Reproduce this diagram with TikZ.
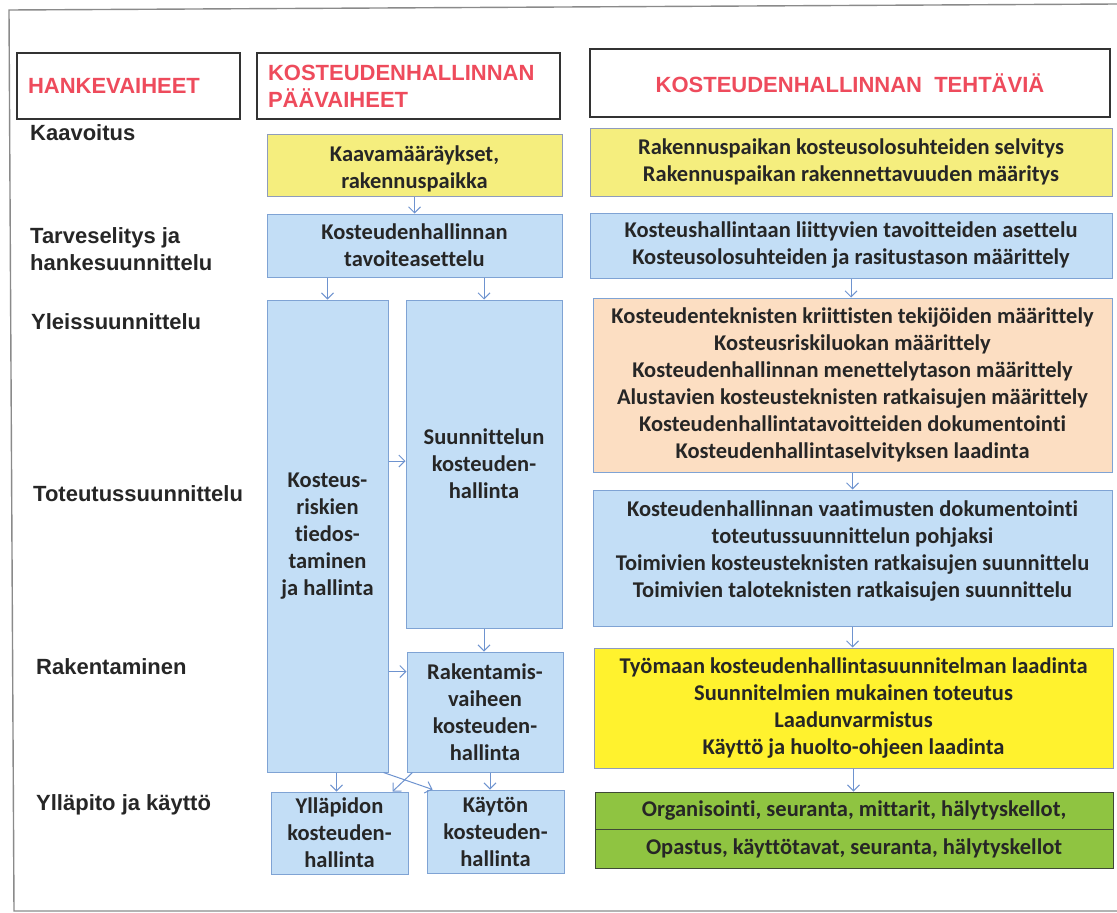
\documentclass[tikz,border=0pt]{standalone}
\usepackage{fontspec}
\setmainfont{Carlito}[Ligatures=CommonOff]
\newfontfamily\arialf{Liberation Sans}
\usetikzlibrary{arrows.meta}
\definecolor{bfill}{HTML}{C3DEF6}
\definecolor{bbord}{HTML}{7FA3D4}
\definecolor{yfill}{HTML}{F5EE7E}
\definecolor{yfilltwo}{HTML}{FFF22E}
\definecolor{ybord}{HTML}{8F9CBC}
\definecolor{ofill}{HTML}{FCDEC2}
\definecolor{gfill}{HTML}{8FC441}
\definecolor{gbord}{HTML}{3F4A35}
\definecolor{redt}{HTML}{EE4B5C}
\definecolor{txt}{HTML}{262626}
\definecolor{arrc}{HTML}{6E93CF}
\definecolor{framec}{HTML}{8A8A8A}
\begin{document}
\begin{tikzpicture}[x=1pt,y=-1pt,
  box/.style={draw=bbord, line width=1pt, align=center, inner sep=0pt, text=txt,
    font=\bfseries\fontsize{22.5}{27}\selectfont},
  bluebox/.style={box, fill=bfill},
  yelbox/.style={box, fill=yfill, draw=ybord},
  yelboxtwo/.style={box, fill=yfilltwo, draw=ybord},
  orbox/.style={box, fill=ofill},
  grbox/.style={box, fill=gfill, draw=gbord},
  boxtext/.style={align=center, inner sep=0pt, text=txt,
    font=\bfseries\fontsize{22.5}{27}\selectfont},
  hdrbox/.style={draw=black!80, line width=1.1pt, text=redt, inner sep=0pt,
    font=\arialf\bfseries\fontsize{22}{27}\selectfont},
  lbl/.style={anchor=west, inner sep=0pt, align=left, text=txt,
    font=\arialf\bfseries\fontsize{22}{27}\selectfont},
  arr/.style={draw=arrc, line width=1pt, -{Straight Barb[length=6pt,width=12pt]}},
  framel/.style={draw=framec, line width=1.4pt}]
\useasboundingbox (0,0) rectangle (1117,913);

% outer frame
\draw[framel] (1117,4) -- (9,10) -- (14,911) -- (1117,911);

% headers
\node[hdrbox, minimum width=223, minimum height=66, text width=201, inner xsep=11, align=left] (h1) at (128.5,86) {HANKEVAIHEET};
\node[hdrbox, minimum width=303, minimum height=66, text width=281, inner xsep=11, align=left] (h2) at (408.5,86) {KOSTEUDENHALLINNAN\\PÄÄVAIHEET};
\node[hdrbox, minimum width=520, minimum height=68, align=center] (h3) at (850,83) {KOSTEUDENHALLINNAN\ \ TEHTÄVIÄ};

% left labels
\node[lbl] (l1) at (30,133) {Kaavoitus};
\node[lbl] (l2) at (30,249.5) {Tarveselitys ja\\hankesuunnittelu};
\node[lbl] (l3) at (31,322) {Yleissuunnittelu};
\node[lbl] (l4) at (33,494) {Toteutussuunnittelu};
\node[lbl] (l5) at (36,667) {Rakentaminen};
\node[lbl] (l6) at (36,805) {Ylläpito ja käyttö};

% middle column
\node[yelbox, minimum width=295, minimum height=62] (kaava) at (414.5,165) {};
\node[boxtext] (kaavat) at (414.5,169) {Kaavamääräykset,\\rakennuspaikka};
\node[bluebox, minimum width=295, minimum height=63] (tav) at (414.5,245.5) {Kosteudenhallinnan\\tavoiteasettelu};
\node[bluebox, minimum width=121, minimum height=472] (tall) at (327.5,536) {Kosteus-\\riskien\\tiedos-\\taminen\\ja hallinta};
\node[bluebox, minimum width=156, minimum height=328] (suun) at (484,464) {Suunnittelun\\kosteuden-\\hallinta};
\node[bluebox, minimum width=156, minimum height=120] (rak) at (485,712) {Rakentamis-\\vaiheen\\kosteuden-\\hallinta};
\node[bluebox, minimum width=137, minimum height=82] (yll) at (339.5,833) {Ylläpidon\\kosteuden-\\hallinta};
\node[bluebox, minimum width=137, minimum height=83] (kay) at (495.5,831.5) {Käytön\\kosteuden-\\hallinta};

% right column
\node[yelbox, minimum width=522, minimum height=68] (ry1) at (851,162) {Rakennuspaikan kosteusolosuhteiden selvitys\\Rakennuspaikan rakennettavuuden määritys};
\node[bluebox, minimum width=522, minimum height=65] (rb1) at (851,245.5) {Kosteushallintaan liittyvien tavoitteiden asettelu\\Kosteusolosuhteiden ja rasitustason määrittely};
\node[orbox, minimum width=519, minimum height=174] (ror) at (852.5,385) {Kosteudenteknisten kriittisten tekijöiden määrittely\\Kosteusriskiluokan määrittely\\Kosteudenhallinnan menettelytason määrittely\\Alustavien kosteusteknisten ratkaisujen määrittely\\Kosteudenhallintatavoitteiden dokumentointi\\Kosteudenhallintaselvityksen laadinta};
\node[bluebox, minimum width=519, minimum height=136] (rb2) at (852.5,558) {};
\node[boxtext] (rb2t) at (852.5,551) {Kosteudenhallinnan vaatimusten dokumentointi\\toteutussuunnittelun pohjaksi\\Toimivien kosteusteknisten ratkaisujen suunnittelu\\Toimivien taloteknisten ratkaisujen suunnittelu};
\node[yelboxtwo, minimum width=519, minimum height=120] (ry2) at (853.5,708) {Työmaan kosteudenhallintasuunnitelman laadinta\\Suunnitelmien mukainen toteutus\\Laadunvarmistus\\Käyttö ja huolto-ohjeen laadinta};
\node[grbox, minimum width=518, minimum height=37] (rg1) at (854,810.5) {Organisointi, seuranta, mittarit, hälytyskellot,};
\node[grbox, minimum width=518, minimum height=39] (rg2) at (854,848.5) {Opastus, käyttötavat, seuranta, hälytyskellot};

% middle arrows
\draw[arr] (kaava) -- (tav);
\draw[arr] (tall.north |- tav.south) -- (tall.north);
\draw[arr] (suun.north |- tav.south) -- (suun.north);
\draw[arr] ([yshift=3]tall.east |- suun.west) -- ([yshift=3]suun.west);
\draw[arr] (suun.south) -- (suun.south |- rak.north);
\draw[arr] ([yshift=-20]tall.east |- rak.north) -- ([yshift=-20]rak.north west);
\draw[arr] ([xshift=-3]yll.north |- tall.south) -- ([xshift=-3]yll.north);
\draw[arr] ([xshift=5]rak.south) -- ([xshift=5]rak.south |- kay.north);
\draw[arr] ([xshift=-5]tall.south east) -- ([xshift=6]kay.north west);
\draw[arr] ([xshift=6]rak.south west) -- ([xshift=-16]yll.north east);

% right arrows
\draw[arr] (rb1.south) -- (rb1.south |- ror.north);
\draw[arr] (ror.south) -- (ror.south |- rb2.north);
\draw[arr] (rb2.south) -- (rb2.south |- ry2.north);
\draw[arr] (ry2.south) -- (ry2.south |- rg1.north);
\end{tikzpicture}
\end{document}
